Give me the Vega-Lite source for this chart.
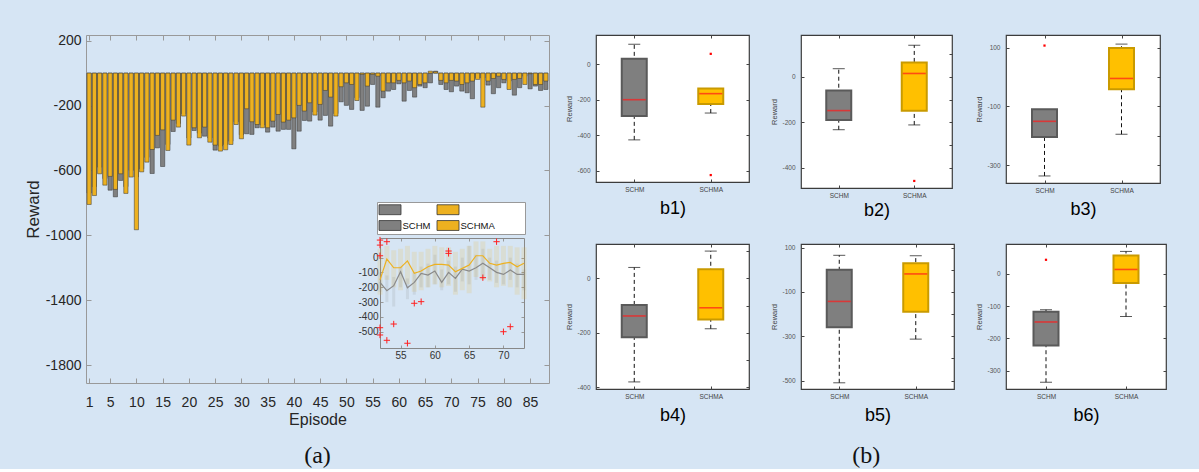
{
"$schema": "https://vega.github.io/schema/vega-lite/v6.json",
"background": "#d6e5f4",
"padding": {"left": 24, "top": 33, "right": 37, "bottom": 0},
"config": {"font": "Liberation Sans", "axis": {"grid": false, "zindex": 1, "labelFont": "Liberation Sans", "titleFont": "Liberation Sans", "labelOverlap": false}, "legend": {"labelFont": "Liberation Sans"}},
"datasets": {
"bars": [
{"ep":1,"schm":-740,"schma":-810},{"ep":2,"schm":-700,"schma":-755},{"ep":3,"schm":-580,"schma":-621},{"ep":4,"schm":-650,"schma":-691},{"ep":5,"schm":-722,"schma":-637},{"ep":6,"schm":-763,"schma":-717},{"ep":7,"schm":-662,"schma":-621},{"ep":8,"schm":-700,"schma":-742},{"ep":9,"schm":-600,"schma":-641},{"ep":10,"schm":-640,"schma":-966},
{"ep":11,"schm":-590,"schma":-609},{"ep":12,"schm":-520,"schma":-549},{"ep":13,"schm":-619,"schma":-471},{"ep":14,"schm":-461,"schma":-384},{"ep":15,"schm":-576,"schma":-350},{"ep":16,"schm":-440,"schma":-477},{"ep":17,"schm":-360,"schma":-290},{"ep":18,"schm":-310,"schma":-333},{"ep":19,"schm":-250,"schma":-265},{"ep":20,"schm":-400,"schma":-444},
{"ep":21,"schm":-354,"schma":-337},{"ep":22,"schm":-370,"schma":-399},{"ep":23,"schm":-389,"schma":-333},{"ep":24,"schm":-400,"schma":-426},{"ep":25,"schm":-475,"schma":-444},{"ep":26,"schm":-450,"schma":-481},{"ep":27,"schm":-440,"schma":-473},{"ep":28,"schm":-420,"schma":-440},{"ep":29,"schm":-300,"schma":-317},{"ep":30,"schm":-380,"schma":-405},
{"ep":31,"schm":-374,"schma":-220},{"ep":32,"schm":-378,"schma":-300},{"ep":33,"schm":-337,"schma":-317},{"ep":34,"schm":-320,"schma":-337},{"ep":35,"schm":-364,"schma":-337},{"ep":36,"schm":-333,"schma":-296},{"ep":37,"schm":-358,"schma":-255},{"ep":38,"schm":-347,"schma":-302},{"ep":39,"schm":-347,"schma":-290},{"ep":40,"schm":-467,"schma":-276},
{"ep":41,"schm":-358,"schma":-199},{"ep":42,"schm":-292,"schma":-234},{"ep":43,"schm":-296,"schma":-183},{"ep":44,"schm":-240,"schma":-259},{"ep":45,"schm":-290,"schma":-193},{"ep":46,"schm":-261,"schma":-107},{"ep":47,"schm":-327,"schma":-148},{"ep":48,"schm":-250,"schma":-265},{"ep":49,"schm":-177,"schma":-84},{"ep":50,"schm":-199,"schma":-60},
{"ep":51,"schm":-224,"schma":-70},{"ep":52,"schm":-152,"schma":-169},{"ep":53,"schm":-230,"schma":-8},{"ep":54,"schm":-204,"schma":-80},{"ep":55,"schm":-70,"schma":-8},{"ep":56,"schm":-210,"schma":-19},{"ep":57,"schm":-152,"schma":-111},{"ep":58,"schm":-111,"schma":-60},{"ep":59,"schm":-101,"schma":-60},{"ep":60,"schm":-66,"schma":-45},
{"ep":61,"schm":-173,"schma":-60},{"ep":62,"schm":-107,"schma":-49},{"ep":63,"schm":-148,"schma":-90},{"ep":64,"schm":-80,"schma":-70},{"ep":65,"schm":-90,"schma":-60},{"ep":66,"schm":-60,"schma":12},{"ep":67,"schm":12,"schma":8},{"ep":68,"schm":-70,"schma":-45},{"ep":69,"schm":-101,"schma":-60},{"ep":70,"schm":-115,"schma":-45},
{"ep":71,"schm":-80,"schma":-49},{"ep":72,"schm":-111,"schma":-70},{"ep":73,"schm":-121,"schma":-60},{"ep":74,"schm":-158,"schma":-49},{"ep":75,"schm":-29,"schma":-39},{"ep":76,"schm":-30,"schma":-210},{"ep":77,"schm":-74,"schma":-49},{"ep":78,"schm":-127,"schma":-33},{"ep":79,"schm":-90,"schma":-19},{"ep":80,"schm":-60,"schma":-39},
{"ep":81,"schm":-49,"schma":-101},{"ep":82,"schm":-136,"schma":-39},{"ep":83,"schm":-90,"schma":-33},{"ep":84,"schm":-19,"schma":-70},{"ep":85,"schm":-97,"schma":-4},{"ep":86,"schm":-80,"schma":-70},{"ep":87,"schm":-107,"schma":-70},{"ep":88,"schm":-101,"schma":-49}
],
"inset": [
{"x":52,"g":-167,"o":-150,"glo":-230,"ghi":-100,"olo":-250,"ohi":60},
{"x":53,"g":-223,"o":-9,"glo":-300,"ghi":-120,"olo":-150,"ohi":80},
{"x":54,"g":-189,"o":-68,"glo":-330,"ghi":-130,"olo":-200,"ohi":50},
{"x":55,"g":-95,"o":-68,"glo":-200,"ghi":-60,"olo":-220,"ohi":60},
{"x":56,"g":-203,"o":-22,"glo":-280,"ghi":-140,"olo":-180,"ohi":80},
{"x":57,"g":-167,"o":-106,"glo":-250,"ghi":-100,"olo":-230,"ohi":40},
{"x":58,"g":-106,"o":-90,"glo":-200,"ghi":-60,"olo":-220,"ohi":40},
{"x":59,"g":-117,"o":-61,"glo":-200,"ghi":-40,"olo":-200,"ohi":60},
{"x":60,"g":-90,"o":-45,"glo":-180,"ghi":20,"olo":-180,"ohi":80},
{"x":61,"g":-167,"o":-45,"glo":-220,"ghi":-80,"olo":-200,"ohi":70},
{"x":62,"g":-99,"o":-50,"glo":-180,"ghi":-20,"olo":-190,"ohi":70},
{"x":63,"g":-140,"o":-95,"glo":-230,"ghi":-60,"olo":-250,"ohi":40},
{"x":64,"g":-77,"o":-72,"glo":-160,"ghi":0,"olo":-220,"ohi":60},
{"x":65,"g":-90,"o":-50,"glo":-180,"ghi":80,"olo":-240,"ohi":80},
{"x":66,"g":-68,"o":13,"glo":-150,"ghi":20,"olo":-130,"ohi":110},
{"x":67,"g":-38,"o":13,"glo":-140,"ghi":60,"olo":-150,"ohi":110},
{"x":68,"g":-68,"o":-38,"glo":-150,"ghi":0,"olo":-160,"ohi":60},
{"x":69,"g":-99,"o":-50,"glo":-170,"ghi":-20,"olo":-200,"ohi":80},
{"x":70,"g":-113,"o":-38,"glo":-180,"ghi":-40,"olo":-190,"ohi":80},
{"x":71,"g":-83,"o":-32,"glo":-150,"ghi":0,"olo":-200,"ohi":80},
{"x":72,"g":-113,"o":-61,"glo":-200,"ghi":-40,"olo":-250,"ohi":70},
{"x":73,"g":-113,"o":-38,"glo":-220,"ghi":-80,"olo":-280,"ohi":70}
],
"insetOut": [
{"x":52,"v":119},{"x":52,"v":85},{"x":53,"v":108},{"x":52,"v":13},{"x":52,"v":-473},{"x":52,"v":-522},{"x":53,"v":-558},{"x":54,"v":-448},{"x":56,"v":-578},{"x":57,"v":-308},{"x":58,"v":-297},{"x":62,"v":45},{"x":62,"v":29},{"x":67,"v":-135},{"x":69,"v":108},{"x":70,"v":-500},{"x":71,"v":-466}
],
"boxes": [
{"p":"b1","cat":"SCHM","lo":-426,"q1":-291,"med":-200,"q3":30,"hi":112},
{"p":"b1","cat":"SCHMA","lo":-275,"q1":-224,"med":-166,"q3":-137,"hi":-137},
{"p":"b2","cat":"SCHM","lo":-232,"q1":-189,"med":-148,"q3":-60,"hi":36},
{"p":"b2","cat":"SCHMA","lo":-211,"q1":-149,"med":15,"q3":63,"hi":139},
{"p":"b3","cat":"SCHM","lo":-337,"q1":-204,"med":-151,"q3":-110,"hi":-110},
{"p":"b3","cat":"SCHMA","lo":-195,"q1":-42,"med":-5,"q3":99,"hi":112},
{"p":"b4","cat":"SCHM","lo":-380,"q1":-216,"med":-138,"q3":-98,"hi":40},
{"p":"b4","cat":"SCHMA","lo":-185,"q1":-151,"med":-108,"q3":33,"hi":100},
{"p":"b5","cat":"SCHM","lo":-510,"q1":-259,"med":-143,"q3":0,"hi":65},
{"p":"b5","cat":"SCHMA","lo":-313,"q1":-190,"med":-19,"q3":29,"hi":63},
{"p":"b6","cat":"SCHM","lo":-336,"q1":-222,"med":-149,"q3":-117,"hi":-111},
{"p":"b6","cat":"SCHMA","lo":-132,"q1":-28,"med":14,"q3":57,"hi":70}
],
"caps": [
{"p":"b1","cat":"SCHM","v":-426},{"p":"b1","cat":"SCHM","v":112},{"p":"b1","cat":"SCHMA","v":-275},
{"p":"b2","cat":"SCHM","v":-232},{"p":"b2","cat":"SCHM","v":36},{"p":"b2","cat":"SCHMA","v":-211},{"p":"b2","cat":"SCHMA","v":139},
{"p":"b3","cat":"SCHM","v":-337},{"p":"b3","cat":"SCHMA","v":-195},{"p":"b3","cat":"SCHMA","v":112},
{"p":"b4","cat":"SCHM","v":-380},{"p":"b4","cat":"SCHM","v":40},{"p":"b4","cat":"SCHMA","v":-185},{"p":"b4","cat":"SCHMA","v":100},
{"p":"b5","cat":"SCHM","v":-510},{"p":"b5","cat":"SCHM","v":65},{"p":"b5","cat":"SCHMA","v":-313},{"p":"b5","cat":"SCHMA","v":63},
{"p":"b6","cat":"SCHM","v":-336},{"p":"b6","cat":"SCHM","v":-111},{"p":"b6","cat":"SCHMA","v":-132},{"p":"b6","cat":"SCHMA","v":70}
],
"outl": [
{"p":"b1","cat":"SCHMA","v":58},{"p":"b1","cat":"SCHMA","v":-624},{"p":"b2","cat":"SCHMA","v":-457},{"p":"b3","cat":"SCHM","v":107},{"p":"b6","cat":"SCHM","v":44}
]
},
"bounds": "flush",
"spacing": 47,
"hconcat": [
{
 "width": 463, "height": 348,
 "view": {"stroke": null},
 "title": {"text": "(a)", "orient": "bottom", "font": "Liberation Serif", "fontSize": 24, "fontWeight": "normal", "color": "#111", "offset": 17, "anchor": "middle"},
 "resolve": {"scale": {"x": "independent", "y": "independent"}},
 "layer": [
  {
   "mark": {"type": "rect", "fill": "white", "stroke": null},
   "encoding": {
    "x": {"datum": -11.53, "type": "quantitative", "scale": {"domain": [0.4, 88.6], "nice": false, "zero": false, "padding": 0},
          "axis": {"orient": "top", "values": [1,5,10,15,20,25,30,35,40,45,50,55,60,65,70,75,80,85], "labels": false, "title": null, "tickSize": -5, "tickColor": "#999", "domainColor": "#999"}},
    "x2": {"datum": 89.74},
    "y": {"datum": 303, "type": "quantitative", "scale": {"domain": [-1911, 235], "nice": false, "zero": false},
          "axis": {"orient": "right", "values": [200,-200,-600,-1000,-1400,-1800], "labels": false, "title": null, "tickSize": -5, "tickColor": "#999", "domainColor": "#999"}},
    "y2": {"datum": -2201}
   }
  },
  {
   "data": {"name": "bars"},
   "layer": [
    {
     "mark": {"type": "bar", "size": 4.2, "stroke": "#333", "strokeWidth": 0.5},
     "encoding": {
      "x": {"field": "ep", "type": "quantitative", "scale": {"domain": [0.4, 88.6], "nice": false, "zero": false, "padding": 0},
            "axis": {"orient": "bottom", "values": [1,5,10,15,20,25,30,35,40,45,50,55,60,65,70,75,80,85], "title": "Episode", "titleFontSize": 16, "titleFontWeight": "normal", "titleColor": "#262626", "titlePadding": 2, "labelFontSize": 14, "labelColor": "#262626", "labelPadding": 17, "tickSize": -5, "tickColor": "#999", "domainColor": "#999", "labelFlush": false, "labelOverlap": false, "labelBound": false, "labelSeparation": -20}},
      "y": {"field": "schm", "type": "quantitative", "scale": {"domain": [-1911, 235], "nice": false, "zero": false},
            "axis": {"orient": "left", "values": [200,-200,-600,-1000,-1400,-1800], "labelExpr": "'' + datum.value", "title": "Reward", "titleFontSize": 17, "titleFontWeight": "normal", "titleColor": "#262626", "titlePadding": 3, "labelFontSize": 14, "labelColor": "#262626", "labelPadding": 10, "tickSize": -5, "tickColor": "#999", "domainColor": "#999", "labelOverlap": false}},
      "color": {"datum": "SCHM", "type": "nominal",
                "scale": {"domain": ["g0", "o0", "SCHM", "SCHMA"], "range": ["#808080", "#EDB120", "#808080", "#EDB120"]},
                "legend": {"orient": "none", "legendX": 291, "legendY": 167, "columns": 2, "direction": "horizontal", "title": null,
                           "labelExpr": "datum.label == 'g0' || datum.label == 'o0' ? '' : (datum.label == 'SCHMA' ? 'SCHMA\u2800\u2800\u2800\u2800' : datum.label)",
                           "symbolType": "M-1,-0.9H3V0.9H-1Z", "symbolSize": 121, "symbolStrokeColor": "#444", "symbolStrokeWidth": 0.8, "symbolOpacity": 1,
                           "labelFontSize": 9.5, "labelColor": "#111", "strokeColor": "#999", "fillColor": "white", "padding": 1.5, "rowPadding": 2, "columnPadding": 4, "labelOffset": 12}}
     }
    },
    {
     "mark": {"type": "bar", "size": 4.2, "stroke": "#333", "strokeWidth": 0.5},
     "encoding": {
      "x": {"field": "ep", "type": "quantitative", "scale": {"domain": [0.4, 88.6], "nice": false, "zero": false, "padding": 0},
            "axis": {"orient": "bottom", "values": [1,5,10,15,20,25,30,35,40,45,50,55,60,65,70,75,80,85], "title": "Episode", "titleFontSize": 16, "titleFontWeight": "normal", "titleColor": "#262626", "titlePadding": 2, "labelFontSize": 14, "labelColor": "#262626", "labelPadding": 17, "tickSize": -5, "tickColor": "#999", "domainColor": "#999", "labelFlush": false, "labelOverlap": false, "labelBound": false, "labelSeparation": -20}},
      "y": {"field": "schma", "type": "quantitative", "scale": {"domain": [-1911, 235], "nice": false, "zero": false},
            "axis": {"orient": "left", "values": [200,-200,-600,-1000,-1400,-1800], "labelExpr": "'' + datum.value", "title": "Reward", "titleFontSize": 17, "titleFontWeight": "normal", "titleColor": "#262626", "titlePadding": 3, "labelFontSize": 14, "labelColor": "#262626", "labelPadding": 10, "tickSize": -5, "tickColor": "#999", "domainColor": "#999", "labelOverlap": false}},
      "color": {"datum": "SCHMA", "type": "nominal"}
     }
    }
   ]
  },
  {
   "layer": [
    {
     "mark": {"type": "rect", "fill": "white"},
     "encoding": {
      "x": {"datum": 52, "type": "quantitative", "scale": {"domain": [52, 73], "range": [294, 438], "nice": false, "zero": false, "padding": 0},
            "axis": {"orient": "bottom", "offset": -35, "values": [55, 60, 65, 70], "title": null, "domain": true, "domainColor": "#888", "labelFontSize": 10, "labelColor": "#333", "labelPadding": 5, "tickSize": -3, "tickColor": "#999"}},
      "x2": {"datum": 73},
      "y": {"datum": -610, "type": "quantitative", "scale": {"domain": [-610, 133], "range": [313, 203], "nice": false, "zero": false},
            "axis": {"orient": "left", "offset": -294, "values": [0, -100, -200, -300, -400, -500], "labelExpr": "'' + datum.value", "title": null, "domain": true, "domainColor": "#888", "labelFontSize": 10, "labelColor": "#333", "labelPadding": 5, "tickSize": -3, "tickColor": "#999"}},
      "y2": {"datum": 133}
     }
    },
    {
     "data": {"name": "inset"},
     "mark": {"type": "bar", "size": 5, "color": "#EDB120", "opacity": 0.15},
     "encoding": {"x": {"field": "x", "type": "quantitative"}, "y": {"field": "olo", "type": "quantitative"}, "y2": {"field": "ohi"}}
    },
    {
     "data": {"name": "inset"},
     "mark": {"type": "bar", "size": 3, "color": "#808080", "opacity": 0.15},
     "encoding": {"x": {"field": "x", "type": "quantitative"}, "y": {"field": "glo", "type": "quantitative"}, "y2": {"field": "ghi"}}
    },
    {
     "data": {"name": "inset"},
     "mark": {"type": "line", "color": "#8a8a8a", "strokeWidth": 1.2},
     "encoding": {"x": {"field": "x", "type": "quantitative"}, "y": {"field": "g", "type": "quantitative"}}
    },
    {
     "data": {"name": "inset"},
     "mark": {"type": "line", "color": "#EDB120", "strokeWidth": 1.2},
     "encoding": {"x": {"field": "x", "type": "quantitative"}, "y": {"field": "o", "type": "quantitative"}}
    },
    {
     "data": {"name": "insetOut"},
     "mark": {"type": "point", "shape": "M-1,0H1M0,-1V1", "filled": false, "color": "#ff2020", "size": 40, "strokeWidth": 1, "opacity": 1},
     "encoding": {"x": {"field": "x", "type": "quantitative"}, "y": {"field": "v", "type": "quantitative"}}
    }
   ]
  },
  {
   "mark": {"type": "rect", "opacity": 0},
   "encoding": {
    "x": {"datum": 52, "type": "quantitative", "scale": {"domain": [52, 73], "range": [294, 438], "nice": false, "zero": false, "padding": 0},
          "axis": {"orient": "top", "offset": -203, "values": [55, 60, 65, 70], "labels": false, "title": null, "domain": true, "domainColor": "#888", "tickSize": -3, "tickColor": "#999"}},
    "x2": {"datum": 73},
    "y": {"datum": -610, "type": "quantitative", "scale": {"domain": [-610, 133], "range": [313, 203], "nice": false, "zero": false},
          "axis": {"orient": "right", "offset": -25, "values": [0, -100, -200, -300, -400, -500], "labels": false, "title": null, "domain": true, "domainColor": "#888", "tickSize": -3, "tickColor": "#999"}},
    "y2": {"datum": 133}
   }
  }
 ]
},
{
 "bounds": "flush",
 "columns": 3,
 "align": "each",
 "spacing": {"row": 56, "column": 52},
 "title": {"text": "(b)", "orient": "bottom", "font": "Liberation Serif", "fontSize": 24, "fontWeight": "normal", "color": "#111", "offset": 19, "anchor": "middle"},
 "concat": [
    {
     "width": 153, "height": 147,
     "view": {"fill": "white", "stroke": "#3c3c3c", "strokeWidth": 1.2},
     "resolve": {"scale": {"x": "independent", "y": "independent"}},
     "layer": [
      {"layer": [
      {"data": {"name": "boxes"}, "transform": [{"filter": "datum.p == 'b1'"}],
       "mark": {"type": "rule", "strokeDash": [4, 3], "color": "#111", "strokeWidth": 1},
       "encoding": {
        "x": {"field": "cat", "type": "nominal", "scale": {"type": "point", "domain": ["SCHM", "SCHMA"], "padding": 0.5},
              "axis": {"title": "b1)", "titleFontSize": 18, "titleFontWeight": "normal", "titleColor": "#000", "titlePadding": 7, "labelFontSize": 6.5, "labelColor": "#444", "labelPadding": 7, "labelAngle": 0, "tickSize": -3, "tickColor": "#444", "domain": false}},
        "y": {"field": "lo", "type": "quantitative", "scale": {"domain": [-663, 164], "nice": false, "zero": false},
              "axis": {"values": [-600, -400, -200, 0], "labelExpr": "'' + datum.value", "title": "Reward", "titleFontSize": 7.5, "titleFontWeight": "normal", "titleColor": "#444", "titlePadding": 3, "labelFontSize": 6.5, "labelColor": "#555", "labelPadding": 9, "tickSize": -3, "tickColor": "#444", "domain": false}},
        "y2": {"field": "hi"}}},
      {"data": {"name": "boxes"}, "transform": [{"filter": "datum.p == 'b1'"}],
       "mark": {"type": "bar", "size": 25, "strokeWidth": 2},
       "encoding": {"x": {"field": "cat", "type": "nominal"}, "y": {"field": "q1", "type": "quantitative"}, "y2": {"field": "q3"},
        "fill": {"field": "cat", "type": "nominal", "scale": {"domain": ["SCHM", "SCHMA"], "range": ["#7f7f7f", "#ffc000"]}, "legend": null},
        "stroke": {"field": "cat", "type": "nominal", "scale": {"domain": ["SCHM", "SCHMA"], "range": ["#5a5a5a", "#c99a00"]}, "legend": null}}},
      {"data": {"name": "caps"}, "transform": [{"filter": "datum.p == 'b1'"}],
       "mark": {"type": "tick", "size": 12, "thickness": 1, "color": "#111"},
       "encoding": {"x": {"field": "cat", "type": "nominal"}, "y": {"field": "v", "type": "quantitative"}}},
      {"data": {"name": "boxes"}, "transform": [{"filter": "datum.p == 'b1'"}],
       "mark": {"type": "tick", "size": 23, "thickness": 1.6, "color": "#ff1a1a"},
       "encoding": {"x": {"field": "cat", "type": "nominal"}, "y": {"field": "med", "type": "quantitative"}}},
      {"data": {"name": "outl"}, "transform": [{"filter": "datum.p == 'b1'"}],
       "mark": {"type": "square", "size": 5, "color": "#ff0000", "opacity": 1},
       "encoding": {"x": {"field": "cat", "type": "nominal"}, "y": {"field": "v", "type": "quantitative"}}}
      ]},
      {"data": {"name": "boxes"}, "transform": [{"filter": "datum.p == 'b1'"}],
       "mark": {"type": "tick", "opacity": 0},
       "encoding": {
        "x": {"field": "cat", "type": "nominal", "scale": {"type": "point", "domain": ["SCHM", "SCHMA"], "padding": 0.5}, "axis": {"orient": "top", "labels": false, "title": null, "tickSize": -3, "tickColor": "#444", "domain": false}},
        "y": {"field": "lo", "type": "quantitative", "scale": {"domain": [-663, 164], "nice": false, "zero": false}, "axis": {"orient": "right", "values": [-600, -400, -200, 0], "labels": false, "title": null, "tickSize": -3, "tickColor": "#444", "domain": false}}}}
     ]
    },
    {
     "width": 151, "height": 153,
     "view": {"fill": "white", "stroke": "#3c3c3c", "strokeWidth": 1.2},
     "resolve": {"scale": {"x": "independent", "y": "independent"}},
     "layer": [
      {"layer": [
      {"data": {"name": "boxes"}, "transform": [{"filter": "datum.p == 'b2'"}],
       "mark": {"type": "rule", "strokeDash": [4, 3], "color": "#111", "strokeWidth": 1},
       "encoding": {
        "x": {"field": "cat", "type": "nominal", "scale": {"type": "point", "domain": ["SCHM", "SCHMA"], "padding": 0.5},
              "axis": {"title": "b2)", "titleFontSize": 18, "titleFontWeight": "normal", "titleColor": "#000", "titlePadding": 3, "labelFontSize": 6.5, "labelColor": "#444", "labelPadding": 7, "labelAngle": 0, "tickSize": -3, "tickColor": "#444", "domain": false}},
        "y": {"field": "lo", "type": "quantitative", "scale": {"domain": [-488, 184], "nice": false, "zero": false},
              "axis": {"values": [-400, -300, -200, -100, 0, 100], "labelExpr": "'' + datum.value", "title": "Reward", "titleFontSize": 7.5, "titleFontWeight": "normal", "titleColor": "#444", "titlePadding": 3, "labelFontSize": 6.5, "labelColor": "#555", "labelPadding": 9, "tickSize": -3, "tickColor": "#444", "domain": false}},
        "y2": {"field": "hi"}}},
      {"data": {"name": "boxes"}, "transform": [{"filter": "datum.p == 'b2'"}],
       "mark": {"type": "bar", "size": 25, "strokeWidth": 2},
       "encoding": {"x": {"field": "cat", "type": "nominal"}, "y": {"field": "q1", "type": "quantitative"}, "y2": {"field": "q3"},
        "fill": {"field": "cat", "type": "nominal", "scale": {"domain": ["SCHM", "SCHMA"], "range": ["#7f7f7f", "#ffc000"]}, "legend": null},
        "stroke": {"field": "cat", "type": "nominal", "scale": {"domain": ["SCHM", "SCHMA"], "range": ["#5a5a5a", "#c99a00"]}, "legend": null}}},
      {"data": {"name": "caps"}, "transform": [{"filter": "datum.p == 'b2'"}],
       "mark": {"type": "tick", "size": 12, "thickness": 1, "color": "#111"},
       "encoding": {"x": {"field": "cat", "type": "nominal"}, "y": {"field": "v", "type": "quantitative"}}},
      {"data": {"name": "boxes"}, "transform": [{"filter": "datum.p == 'b2'"}],
       "mark": {"type": "tick", "size": 23, "thickness": 1.6, "color": "#ff1a1a"},
       "encoding": {"x": {"field": "cat", "type": "nominal"}, "y": {"field": "med", "type": "quantitative"}}},
      {"data": {"name": "outl"}, "transform": [{"filter": "datum.p == 'b2'"}],
       "mark": {"type": "square", "size": 5, "color": "#ff0000", "opacity": 1},
       "encoding": {"x": {"field": "cat", "type": "nominal"}, "y": {"field": "v", "type": "quantitative"}}}
      ]},
      {"data": {"name": "boxes"}, "transform": [{"filter": "datum.p == 'b2'"}],
       "mark": {"type": "tick", "opacity": 0},
       "encoding": {
        "x": {"field": "cat", "type": "nominal", "scale": {"type": "point", "domain": ["SCHM", "SCHMA"], "padding": 0.5}, "axis": {"orient": "top", "labels": false, "title": null, "tickSize": -3, "tickColor": "#444", "domain": false}},
        "y": {"field": "lo", "type": "quantitative", "scale": {"domain": [-488, 184], "nice": false, "zero": false}, "axis": {"orient": "right", "values": [-400, -300, -200, -100, 0, 100], "labels": false, "title": null, "tickSize": -3, "tickColor": "#444", "domain": false}}}}
     ]
    },
    {
     "width": 154, "height": 148,
     "view": {"fill": "white", "stroke": "#3c3c3c", "strokeWidth": 1.2},
     "resolve": {"scale": {"x": "independent", "y": "independent"}},
     "layer": [
      {"layer": [
      {"data": {"name": "boxes"}, "transform": [{"filter": "datum.p == 'b3'"}],
       "mark": {"type": "rule", "strokeDash": [4, 3], "color": "#111", "strokeWidth": 1},
       "encoding": {
        "x": {"field": "cat", "type": "nominal", "scale": {"type": "point", "domain": ["SCHM", "SCHMA"], "padding": 0.5},
              "axis": {"title": "b3)", "titleFontSize": 18, "titleFontWeight": "normal", "titleColor": "#000", "titlePadding": 7, "labelFontSize": 6.5, "labelColor": "#444", "labelPadding": 7, "labelAngle": 0, "tickSize": -3, "tickColor": "#444", "domain": false}},
        "y": {"field": "lo", "type": "quantitative", "scale": {"domain": [-361, 143], "nice": false, "zero": false},
              "axis": {"values": [-300, -200, -100, 0, 100], "labelExpr": "'' + datum.value", "title": "Reward", "titleFontSize": 7.5, "titleFontWeight": "normal", "titleColor": "#444", "titlePadding": 3, "labelFontSize": 6.5, "labelColor": "#555", "labelPadding": 9, "tickSize": -3, "tickColor": "#444", "domain": false}},
        "y2": {"field": "hi"}}},
      {"data": {"name": "boxes"}, "transform": [{"filter": "datum.p == 'b3'"}],
       "mark": {"type": "bar", "size": 25, "strokeWidth": 2},
       "encoding": {"x": {"field": "cat", "type": "nominal"}, "y": {"field": "q1", "type": "quantitative"}, "y2": {"field": "q3"},
        "fill": {"field": "cat", "type": "nominal", "scale": {"domain": ["SCHM", "SCHMA"], "range": ["#7f7f7f", "#ffc000"]}, "legend": null},
        "stroke": {"field": "cat", "type": "nominal", "scale": {"domain": ["SCHM", "SCHMA"], "range": ["#5a5a5a", "#c99a00"]}, "legend": null}}},
      {"data": {"name": "caps"}, "transform": [{"filter": "datum.p == 'b3'"}],
       "mark": {"type": "tick", "size": 12, "thickness": 1, "color": "#111"},
       "encoding": {"x": {"field": "cat", "type": "nominal"}, "y": {"field": "v", "type": "quantitative"}}},
      {"data": {"name": "boxes"}, "transform": [{"filter": "datum.p == 'b3'"}],
       "mark": {"type": "tick", "size": 23, "thickness": 1.6, "color": "#ff1a1a"},
       "encoding": {"x": {"field": "cat", "type": "nominal"}, "y": {"field": "med", "type": "quantitative"}}},
      {"data": {"name": "outl"}, "transform": [{"filter": "datum.p == 'b3'"}],
       "mark": {"type": "square", "size": 5, "color": "#ff0000", "opacity": 1},
       "encoding": {"x": {"field": "cat", "type": "nominal"}, "y": {"field": "v", "type": "quantitative"}}}
      ]},
      {"data": {"name": "boxes"}, "transform": [{"filter": "datum.p == 'b3'"}],
       "mark": {"type": "tick", "opacity": 0},
       "encoding": {
        "x": {"field": "cat", "type": "nominal", "scale": {"type": "point", "domain": ["SCHM", "SCHMA"], "padding": 0.5}, "axis": {"orient": "top", "labels": false, "title": null, "tickSize": -3, "tickColor": "#444", "domain": false}},
        "y": {"field": "lo", "type": "quantitative", "scale": {"domain": [-361, 143], "nice": false, "zero": false}, "axis": {"orient": "right", "values": [-300, -200, -100, 0, 100], "labels": false, "title": null, "tickSize": -3, "tickColor": "#444", "domain": false}}}}
     ]
    },
    {
     "width": 153, "height": 145,
     "view": {"fill": "white", "stroke": "#3c3c3c", "strokeWidth": 1.2},
     "resolve": {"scale": {"x": "independent", "y": "independent"}},
     "layer": [
      {"layer": [
      {"data": {"name": "boxes"}, "transform": [{"filter": "datum.p == 'b4'"}],
       "mark": {"type": "rule", "strokeDash": [4, 3], "color": "#111", "strokeWidth": 1},
       "encoding": {
        "x": {"field": "cat", "type": "nominal", "scale": {"type": "point", "domain": ["SCHM", "SCHMA"], "padding": 0.5},
              "axis": {"title": "b4)", "titleFontSize": 18, "titleFontWeight": "normal", "titleColor": "#000", "titlePadding": 7, "labelFontSize": 6.5, "labelColor": "#444", "labelPadding": 7, "labelAngle": 0, "tickSize": -3, "tickColor": "#444", "domain": false}},
        "y": {"field": "lo", "type": "quantitative", "scale": {"domain": [-406, 126], "nice": false, "zero": false},
              "axis": {"values": [-400, -300, -200, -100, 0, 100], "labelExpr": "'' + datum.value", "title": "Reward", "titleFontSize": 7.5, "titleFontWeight": "normal", "titleColor": "#444", "titlePadding": 3, "labelFontSize": 6.5, "labelColor": "#555", "labelPadding": 9, "tickSize": -3, "tickColor": "#444", "domain": false}},
        "y2": {"field": "hi"}}},
      {"data": {"name": "boxes"}, "transform": [{"filter": "datum.p == 'b4'"}],
       "mark": {"type": "bar", "size": 25, "strokeWidth": 2},
       "encoding": {"x": {"field": "cat", "type": "nominal"}, "y": {"field": "q1", "type": "quantitative"}, "y2": {"field": "q3"},
        "fill": {"field": "cat", "type": "nominal", "scale": {"domain": ["SCHM", "SCHMA"], "range": ["#7f7f7f", "#ffc000"]}, "legend": null},
        "stroke": {"field": "cat", "type": "nominal", "scale": {"domain": ["SCHM", "SCHMA"], "range": ["#5a5a5a", "#c99a00"]}, "legend": null}}},
      {"data": {"name": "caps"}, "transform": [{"filter": "datum.p == 'b4'"}],
       "mark": {"type": "tick", "size": 12, "thickness": 1, "color": "#111"},
       "encoding": {"x": {"field": "cat", "type": "nominal"}, "y": {"field": "v", "type": "quantitative"}}},
      {"data": {"name": "boxes"}, "transform": [{"filter": "datum.p == 'b4'"}],
       "mark": {"type": "tick", "size": 23, "thickness": 1.6, "color": "#ff1a1a"},
       "encoding": {"x": {"field": "cat", "type": "nominal"}, "y": {"field": "med", "type": "quantitative"}}}
      ]},
      {"data": {"name": "boxes"}, "transform": [{"filter": "datum.p == 'b4'"}],
       "mark": {"type": "tick", "opacity": 0},
       "encoding": {
        "x": {"field": "cat", "type": "nominal", "scale": {"type": "point", "domain": ["SCHM", "SCHMA"], "padding": 0.5}, "axis": {"orient": "top", "labels": false, "title": null, "tickSize": -3, "tickColor": "#444", "domain": false}},
        "y": {"field": "lo", "type": "quantitative", "scale": {"domain": [-406, 126], "nice": false, "zero": false}, "axis": {"orient": "right", "values": [-400, -300, -200, -100, 0, 100], "labels": false, "title": null, "tickSize": -3, "tickColor": "#444", "domain": false}}}}
     ]
    },
    {
     "width": 153, "height": 145,
     "view": {"fill": "white", "stroke": "#3c3c3c", "strokeWidth": 1.2},
     "resolve": {"scale": {"x": "independent", "y": "independent"}},
     "layer": [
      {"layer": [
      {"data": {"name": "boxes"}, "transform": [{"filter": "datum.p == 'b5'"}],
       "mark": {"type": "rule", "strokeDash": [4, 3], "color": "#111", "strokeWidth": 1},
       "encoding": {
        "x": {"field": "cat", "type": "nominal", "scale": {"type": "point", "domain": ["SCHM", "SCHMA"], "padding": 0.5},
              "axis": {"title": "b5)", "titleFontSize": 18, "titleFontWeight": "normal", "titleColor": "#000", "titlePadding": 7, "labelFontSize": 6.5, "labelColor": "#444", "labelPadding": 7, "labelAngle": 0, "tickSize": -3, "tickColor": "#444", "domain": false}},
        "y": {"field": "lo", "type": "quantitative", "scale": {"domain": [-538, 116], "nice": false, "zero": false},
              "axis": {"values": [-500, -400, -300, -200, -100, 0, 100], "labelExpr": "'' + datum.value", "title": "Reward", "titleFontSize": 7.5, "titleFontWeight": "normal", "titleColor": "#444", "titlePadding": 3, "labelFontSize": 6.5, "labelColor": "#555", "labelPadding": 9, "tickSize": -3, "tickColor": "#444", "domain": false}},
        "y2": {"field": "hi"}}},
      {"data": {"name": "boxes"}, "transform": [{"filter": "datum.p == 'b5'"}],
       "mark": {"type": "bar", "size": 25, "strokeWidth": 2},
       "encoding": {"x": {"field": "cat", "type": "nominal"}, "y": {"field": "q1", "type": "quantitative"}, "y2": {"field": "q3"},
        "fill": {"field": "cat", "type": "nominal", "scale": {"domain": ["SCHM", "SCHMA"], "range": ["#7f7f7f", "#ffc000"]}, "legend": null},
        "stroke": {"field": "cat", "type": "nominal", "scale": {"domain": ["SCHM", "SCHMA"], "range": ["#5a5a5a", "#c99a00"]}, "legend": null}}},
      {"data": {"name": "caps"}, "transform": [{"filter": "datum.p == 'b5'"}],
       "mark": {"type": "tick", "size": 12, "thickness": 1, "color": "#111"},
       "encoding": {"x": {"field": "cat", "type": "nominal"}, "y": {"field": "v", "type": "quantitative"}}},
      {"data": {"name": "boxes"}, "transform": [{"filter": "datum.p == 'b5'"}],
       "mark": {"type": "tick", "size": 23, "thickness": 1.6, "color": "#ff1a1a"},
       "encoding": {"x": {"field": "cat", "type": "nominal"}, "y": {"field": "med", "type": "quantitative"}}}
      ]},
      {"data": {"name": "boxes"}, "transform": [{"filter": "datum.p == 'b5'"}],
       "mark": {"type": "tick", "opacity": 0},
       "encoding": {
        "x": {"field": "cat", "type": "nominal", "scale": {"type": "point", "domain": ["SCHM", "SCHMA"], "padding": 0.5}, "axis": {"orient": "top", "labels": false, "title": null, "tickSize": -3, "tickColor": "#444", "domain": false}},
        "y": {"field": "lo", "type": "quantitative", "scale": {"domain": [-538, 116], "nice": false, "zero": false}, "axis": {"orient": "right", "values": [-500, -400, -300, -200, -100, 0, 100], "labels": false, "title": null, "tickSize": -3, "tickColor": "#444", "domain": false}}}}
     ]
    },
    {
     "width": 160, "height": 145,
     "view": {"fill": "white", "stroke": "#3c3c3c", "strokeWidth": 1.2},
     "resolve": {"scale": {"x": "independent", "y": "independent"}},
     "layer": [
      {"layer": [
      {"data": {"name": "boxes"}, "transform": [{"filter": "datum.p == 'b6'"}],
       "mark": {"type": "rule", "strokeDash": [4, 3], "color": "#111", "strokeWidth": 1},
       "encoding": {
        "x": {"field": "cat", "type": "nominal", "scale": {"type": "point", "domain": ["SCHM", "SCHMA"], "padding": 0.5},
              "axis": {"title": "b6)", "titleFontSize": 18, "titleFontWeight": "normal", "titleColor": "#000", "titlePadding": 7, "labelFontSize": 6.5, "labelColor": "#444", "labelPadding": 7, "labelAngle": 0, "tickSize": -3, "tickColor": "#444", "domain": false}},
        "y": {"field": "lo", "type": "quantitative", "scale": {"domain": [-357, 93], "nice": false, "zero": false},
              "axis": {"values": [-300, -200, -100, 0], "labelExpr": "'' + datum.value", "title": "Reward", "titleFontSize": 7.5, "titleFontWeight": "normal", "titleColor": "#444", "titlePadding": 3, "labelFontSize": 6.5, "labelColor": "#555", "labelPadding": 9, "tickSize": -3, "tickColor": "#444", "domain": false}},
        "y2": {"field": "hi"}}},
      {"data": {"name": "boxes"}, "transform": [{"filter": "datum.p == 'b6'"}],
       "mark": {"type": "bar", "size": 25, "strokeWidth": 2},
       "encoding": {"x": {"field": "cat", "type": "nominal"}, "y": {"field": "q1", "type": "quantitative"}, "y2": {"field": "q3"},
        "fill": {"field": "cat", "type": "nominal", "scale": {"domain": ["SCHM", "SCHMA"], "range": ["#7f7f7f", "#ffc000"]}, "legend": null},
        "stroke": {"field": "cat", "type": "nominal", "scale": {"domain": ["SCHM", "SCHMA"], "range": ["#5a5a5a", "#c99a00"]}, "legend": null}}},
      {"data": {"name": "caps"}, "transform": [{"filter": "datum.p == 'b6'"}],
       "mark": {"type": "tick", "size": 12, "thickness": 1, "color": "#111"},
       "encoding": {"x": {"field": "cat", "type": "nominal"}, "y": {"field": "v", "type": "quantitative"}}},
      {"data": {"name": "boxes"}, "transform": [{"filter": "datum.p == 'b6'"}],
       "mark": {"type": "tick", "size": 23, "thickness": 1.6, "color": "#ff1a1a"},
       "encoding": {"x": {"field": "cat", "type": "nominal"}, "y": {"field": "med", "type": "quantitative"}}},
      {"data": {"name": "outl"}, "transform": [{"filter": "datum.p == 'b6'"}],
       "mark": {"type": "square", "size": 5, "color": "#ff0000", "opacity": 1},
       "encoding": {"x": {"field": "cat", "type": "nominal"}, "y": {"field": "v", "type": "quantitative"}}}
      ]},
      {"data": {"name": "boxes"}, "transform": [{"filter": "datum.p == 'b6'"}],
       "mark": {"type": "tick", "opacity": 0},
       "encoding": {
        "x": {"field": "cat", "type": "nominal", "scale": {"type": "point", "domain": ["SCHM", "SCHMA"], "padding": 0.5}, "axis": {"orient": "top", "labels": false, "title": null, "tickSize": -3, "tickColor": "#444", "domain": false}},
        "y": {"field": "lo", "type": "quantitative", "scale": {"domain": [-357, 93], "nice": false, "zero": false}, "axis": {"orient": "right", "values": [-300, -200, -100, 0], "labels": false, "title": null, "tickSize": -3, "tickColor": "#444", "domain": false}}}}
     ]
    }
 ]
}
]
}
